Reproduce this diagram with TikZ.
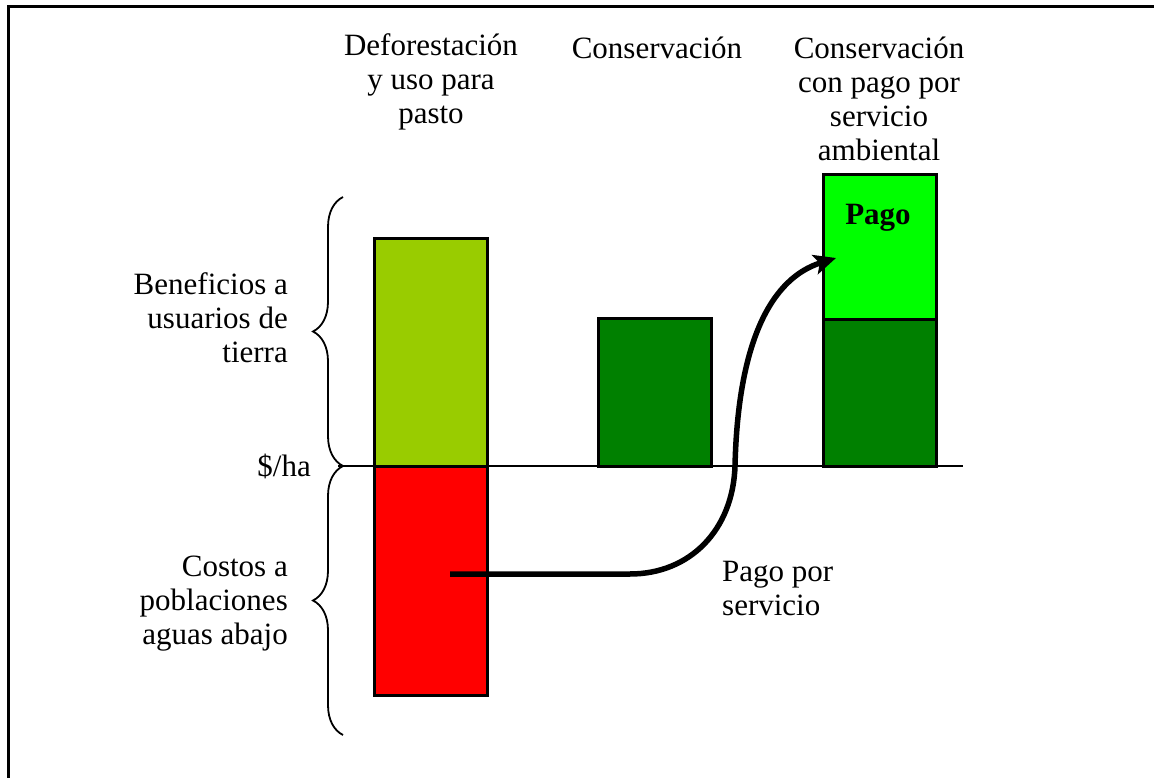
\documentclass[tikz,border=0pt]{standalone}
\usepackage{fontspec}
\setmainfont{Liberation Serif}
\usetikzlibrary{arrows.meta,decorations.pathreplacing}
\definecolor{pastgreen}{HTML}{99CC00}
\definecolor{costred}{HTML}{FF0000}
\definecolor{forestgreen}{HTML}{008000}
\definecolor{paygreen}{HTML}{00FF00}
\begin{document}
\begin{tikzpicture}[x=1pt,y=-1pt,
  bar/.style={draw=black,line width=3pt,inner sep=0pt,outer sep=0pt,anchor=north west},
  lbl/.style={inner sep=0pt,font=\fontsize{31}{34}\selectfont},
  brc/.style={decorate,decoration={brace,amplitude=30pt},line width=1.8pt},
  flow/.style={line width=5.5pt,-{Stealth[length=22pt,width=20pt,inset=5pt]}}]
\useasboundingbox (0,0) rectangle (1154,778);
% frame (top and left edges)
\draw[line width=3pt] (8,778) -- (8,7) -- (1154,7);
% zero line
\coordinate (ax0) at (338,466);
\coordinate (ax1) at (963,466);
\draw[line width=2pt] (ax0) -- (ax1);
% bars
\node[bar,fill=pastgreen,minimum width=113pt,minimum height=227pt] (benef) at (374,239) {};
\node[bar,fill=costred,minimum width=113pt,minimum height=229pt] (cost) at (374,466) {};
\node[bar,fill=forestgreen,minimum width=113pt,minimum height=148pt] (cons) at (598,318) {};
\node[bar,fill=paygreen,minimum width=113pt,minimum height=144pt] (pay) at (823,175) {};
\node[bar,fill=forestgreen,minimum width=113pt,minimum height=147pt] (conspay) at (823,319) {};
\node[lbl,font=\fontsize{31}{34}\selectfont\bfseries] (pago) at (878,218) {Pago};
% column titles
\node[lbl,align=center] (t1) at (431,82) {Deforestación\\y uso para\\pasto};
\node[lbl,align=center] (t2) at (657,48) {Conservación};
\node[lbl,align=center] (t3) at (879,99) {Conservación\\con pago por\\servicio\\ambiental};
% axis labels
\node[lbl,align=right,anchor=east] (lb) at (288,318) {Beneficios a\\usuarios de\\tierra};
\node[lbl,anchor=east] (unit) at (311,466) {\$/ha};
\node[lbl,align=right,anchor=east] (lc) at (288,604) {Costos a\\poblaciones\\aguas abajo};
\draw[brc] (343,466) -- (343,197);
\draw[brc] (343,735) -- (343,466);
% payment flow
\coordinate (src) at (450,574);
\coordinate (dst) at (836,258);
\draw[flow] (src) -- (630,574) .. controls (690,574) and (733,530) .. (735,466)
  .. controls (738,340) and (772,278) .. (dst);
\node[lbl,align=left,anchor=west] (pp) at (722,588) {Pago por\\servicio};
\end{tikzpicture}
\end{document}
